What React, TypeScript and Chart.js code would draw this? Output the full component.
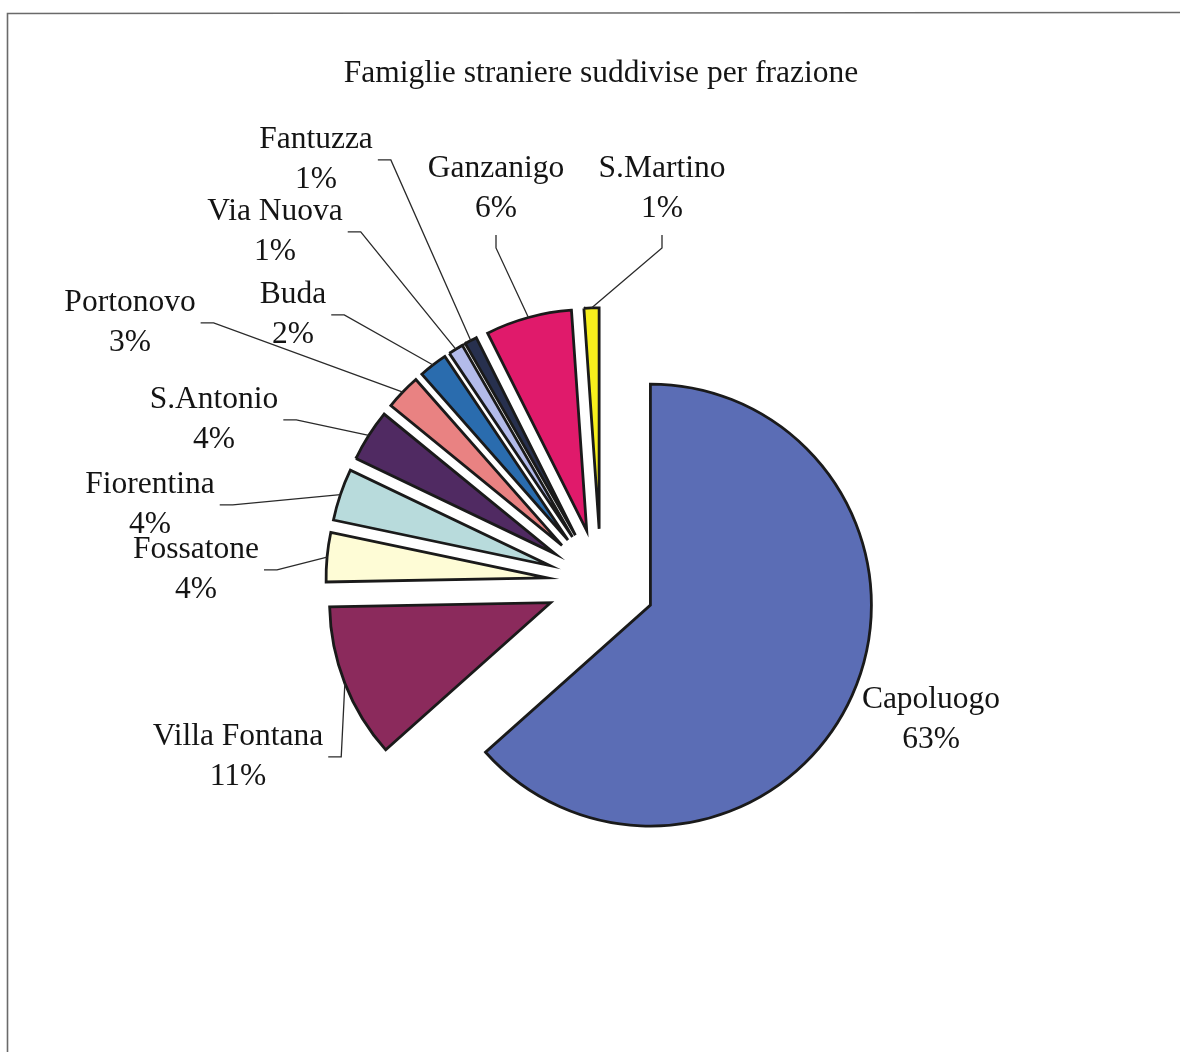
import React, { useEffect, useRef } from 'react';
import { Chart, registerables } from 'chart.js';

Chart.register(...registerables);

const TITLE = 'Famiglie straniere suddivise per frazione';

const categories = [
  'Capoluogo',
  'Villa Fontana',
  'Fossatone',
  'Fiorentina',
  'S.Antonio',
  'Portonovo',
  'Buda',
  'Via Nuova',
  'Fantuzza',
  'Ganzanigo',
  'S.Martino',
];

// shares in percent
const shares = [63.4, 11.3, 3.6, 3.8, 3.8, 2.6, 2.1, 1.1, 0.9, 6.3, 1.1];

const sliceColors = [
  '#5b6db5',
  '#8b2a5c',
  '#fefcd6',
  '#b8dbdc',
  '#502a62',
  '#e98282',
  '#2a6cae',
  '#b3bbea',
  '#27304e',
  '#e01a6b',
  '#f7ef1c',
];

// label block centre, relative to the pie centre, and leader stub kind
const labelDX = [330, -363, -405, -451, -387, -471, -308, -326, -285, -105, 61];
const labelDY = [137, 174, -13, -78, -163, -260, -268, -351, -423, -394, -394];
const labelStub = ['none', 'right', 'right', 'right', 'right', 'right', 'right', 'right', 'right', 'bottom', 'bottom'];

const SERIF = "'Liberation Serif', 'Times New Roman', Times, serif";
const EXPLODE = 0.245; // fraction of radius each slice is pulled out

const explodedPie = {
  id: 'explodedPie',
  beforeDraw(chart: any) {
    const ctx = chart.ctx;
    ctx.save();
    ctx.fillStyle = '#ffffff';
    ctx.fillRect(0, 0, chart.width, chart.height);
    ctx.strokeStyle = '#6a6a6a';
    ctx.lineWidth = 1.6;
    ctx.beginPath();
    ctx.moveTo(7.5, chart.height + 2);
    ctx.lineTo(7.5, 13.5);
    ctx.lineTo(chart.width + 2, 12.5);
    ctx.stroke();
    ctx.restore();
  },
  beforeDatasetDraw(chart: any, args: any) {
    const meta = chart.getDatasetMeta(args.index);
    const ctx = chart.ctx;
    meta.data.forEach((arc: any) => {
      const mid = (arc.startAngle + arc.endAngle) / 2;
      const d = arc.outerRadius * EXPLODE;
      ctx.save();
      ctx.translate(Math.cos(mid) * d, Math.sin(mid) * d);
      arc.draw(ctx);
      ctx.restore();
    });
    return false;
  },
  afterDatasetsDraw(chart: any) {
    const meta = chart.getDatasetMeta(0);
    const ctx = chart.ctx;
    const total = shares.reduce((a, b) => a + b, 0);
    ctx.save();
    ctx.font = `31.5px ${SERIF}`;
    ctx.fillStyle = '#141414';
    ctx.textAlign = 'center';
    ctx.textBaseline = 'middle';
    meta.data.forEach((arc: any, i: number) => {
      const cx = arc.x;
      const cy = arc.y;
      const mid = (arc.startAngle + arc.endAngle) / 2;
      const rr = arc.outerRadius * (1 + EXPLODE);
      const ox = cx + Math.cos(mid) * rr;
      const oy = cy + Math.sin(mid) * rr;
      const lx = cx + labelDX[i];
      const ly = cy + labelDY[i];
      const name = categories[i];
      const pct = Math.round((shares[i] / total) * 100) + '%';
      ctx.fillText(name, lx, ly - 20);
      ctx.fillText(pct, lx, ly + 20);
      const w = Math.max(ctx.measureText(name).width, ctx.measureText(pct).width);
      const kind = labelStub[i];
      if (kind !== 'none') {
        let p0x, p0y, p1x, p1y;
        if (kind === 'right') {
          p0x = lx + w / 2 + 5;
          p0y = ly;
          p1x = p0x + 13;
          p1y = ly;
        } else {
          p0x = lx;
          p0y = ly + 46;
          p1x = lx;
          p1y = ly + 59;
        }
        ctx.save();
        ctx.strokeStyle = '#2a2a2a';
        ctx.lineWidth = 1.3;
        ctx.beginPath();
        ctx.moveTo(p0x, p0y);
        ctx.lineTo(p1x, p1y);
        ctx.lineTo(ox, oy);
        ctx.stroke();
        ctx.restore();
      }
    });
    ctx.restore();
  },
};

export default function App() {
  const canvasRef = useRef<HTMLCanvasElement | null>(null);

  useEffect(() => {
    if (!canvasRef.current) return;
    const chart = new Chart(canvasRef.current, {
      type: 'pie',
      data: {
        labels: categories,
        datasets: [
          {
            data: shares,
            backgroundColor: sliceColors,
            borderColor: '#1a1a1a',
            borderWidth: 2.8,
            borderJoinStyle: 'miter',
            radius: 221,
          } as any,
        ],
      },
      options: {
        responsive: false,
        animation: false,
        devicePixelRatio: 1,
        events: [],
        radius: 221,
        layout: { padding: { left: 22, right: 0, top: 0, bottom: 0 } },
        plugins: {
          legend: { display: false },
          tooltip: { enabled: false },
          title: {
            display: true,
            text: TITLE,
            color: '#141414',
            font: { family: SERIF, size: 31.5, weight: 'normal' },
            padding: { top: 55, bottom: 21 },
          },
        },
      } as any,
      plugins: [explodedPie],
    });
    return () => chart.destroy();
  }, []);

  return (
    <div style={{ position: 'absolute', left: 0, top: 0, width: 1180, height: 1052 }}>
      <canvas ref={canvasRef} width={1180} height={1052} style={{ display: 'block' }} />
    </div>
  );
}
